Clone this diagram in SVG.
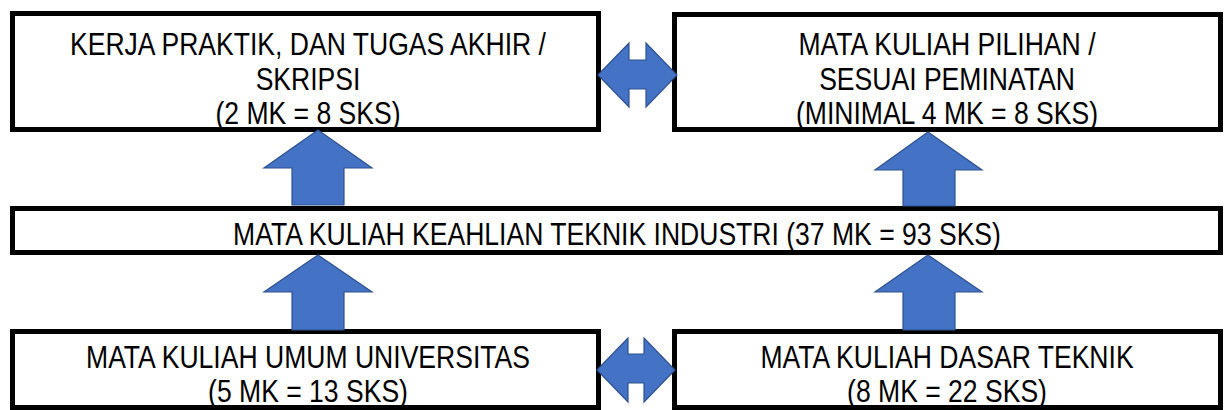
<svg xmlns="http://www.w3.org/2000/svg" width="1224" height="410" viewBox="0 0 1224 410">
  <style>
    .box { fill: #ffffff; stroke: #000000; stroke-width: 5; }
    .lbl { font-family: "Liberation Sans", Arial, sans-serif; font-size: 32px; fill: #000000; text-anchor: middle; }
    .arrow { fill: #4472C4; stroke: #2F528F; stroke-width: 1.2; stroke-linejoin: miter; }
  </style>
  <rect width="1224" height="410" fill="#ffffff"/>

  <!-- course groups; labels are narrowed horizontally to a condensed face -->
  <g id="node-kerja-praktik">
    <rect class="box" x="12.5" y="13.5" width="586" height="116"/>
    <text class="lbl" transform="translate(308 55) scale(0.83 1)">KERJA PRAKTIK, DAN TUGAS AKHIR /</text>
    <text class="lbl" transform="translate(308 90) scale(0.83 1)">SKRIPSI</text>
    <text class="lbl" transform="translate(308 124) scale(0.83 1)">(2 MK = 8 SKS)</text>
  </g>

  <g id="node-pilihan">
    <rect class="box" x="674.5" y="14.5" width="546" height="115"/>
    <text class="lbl" transform="translate(947 55) scale(0.83 1)">MATA KULIAH PILIHAN /</text>
    <text class="lbl" transform="translate(947 90) scale(0.83 1)">SESUAI PEMINATAN</text>
    <text class="lbl" transform="translate(947 124) scale(0.83 1)">(MINIMAL 4 MK = 8 SKS)</text>
  </g>

  <g id="node-keahlian">
    <rect class="box" x="12.5" y="208.5" width="1208" height="44"/>
    <text class="lbl" transform="translate(617 245) scale(0.83 1)">MATA KULIAH KEAHLIAN TEKNIK INDUSTRI (37 MK = 93 SKS)</text>
  </g>

  <g id="node-umum">
    <rect class="box" x="12.5" y="331.5" width="586" height="76"/>
    <text class="lbl" transform="translate(308 368) scale(0.83 1)">MATA KULIAH UMUM UNIVERSITAS</text>
    <text class="lbl" transform="translate(308 402) scale(0.83 1)">(5 MK = 13 SKS)</text>
  </g>

  <g id="node-dasar">
    <rect class="box" x="674.5" y="331.5" width="546" height="76"/>
    <text class="lbl" transform="translate(947 368) scale(0.83 1)">MATA KULIAH DASAR TEKNIK</text>
    <text class="lbl" transform="translate(947 402) scale(0.83 1)">(8 MK = 22 SKS)</text>
  </g>

  <!-- block arrows between groups -->
  <g id="connectors">
    <!-- upward arrows: keahlian -> top row -->
    <polygon class="arrow" points="318,130 372,168 344,168 344,205 292,205 292,168 264,168"/>
    <polygon class="arrow" points="928,132 982,170 955,170 955,206 903,206 903,170 875,170"/>
    <!-- upward arrows: bottom row -> keahlian -->
    <polygon class="arrow" points="318,255 372,292 344,292 344,330 292,330 292,292 264,292"/>
    <polygon class="arrow" points="928,255 982,292 955,292 955,330 903,330 903,292 875,292"/>
    <!-- horizontal double arrows -->
    <polygon class="arrow" points="598,75 629,43 629,60 646,60 646,43 677,75 646,107 646,89 629,89 629,107"/>
    <polygon class="arrow" points="597,370 628,338 628,354 644,354 644,338 675,370 644,402 644,383 628,383 628,402"/>
  </g>
</svg>
